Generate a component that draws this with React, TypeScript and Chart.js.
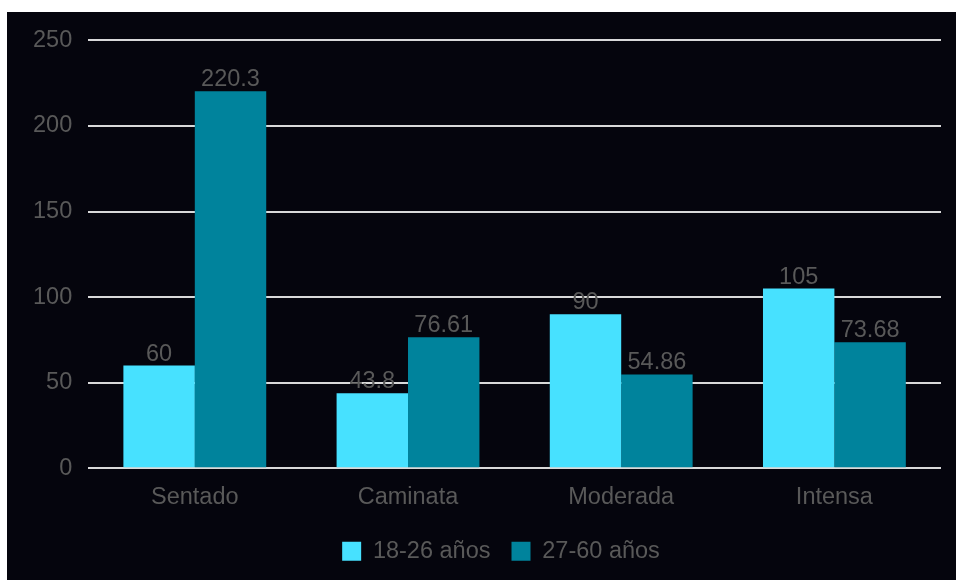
import React, { useEffect, useRef } from "react";
import { Chart, registerables } from "chart.js";

Chart.register(...registerables);

const categories = ["Sentado", "Caminata", "Moderada", "Intensa"];
const seriesYoung = [60, 43.8, 90, 105];
const seriesAdult = [220.3, 76.61, 54.86, 73.68];
const seriesNames = ["18-26 años", "27-60 años"];
const yTicks = [0, 50, 100, 150, 200, 250];

const FONT = "'Liberation Sans', Arial, sans-serif";
const TEXT = "#595959";
const FS = 23.5;

const valueLabels = {
  id: "valueLabels",
  afterDatasetsDraw(chart: any) {
    const ctx = chart.ctx;
    ctx.save();
    ctx.font = `${FS}px ${FONT}`;
    ctx.fillStyle = TEXT;
    ctx.textAlign = "center";
    ctx.textBaseline = "alphabetic";
    chart.data.datasets.forEach((ds: any, i: number) => {
      const meta = chart.getDatasetMeta(i);
      meta.data.forEach((el: any, j: number) => {
        ctx.fillText(String(ds.data[j]), el.x, el.y - 5);
      });
    });
    ctx.restore();
  },
};

const legendShift = {
  id: "legendShift",
  afterLayout(chart: any) {
    const lg = chart.legend;
    if (lg) {
      lg.left += 22;
      lg.right += 22;
    }
  },
};

export default function App() {
  const ref = useRef<HTMLCanvasElement>(null);
  useEffect(() => {
    if (!ref.current) return;
    const chart = new Chart(ref.current, {
      type: "bar",
      data: {
        labels: categories,
        datasets: [
          { label: seriesNames[0], data: seriesYoung, backgroundColor: "#47E1FF" },
          { label: seriesNames[1], data: seriesAdult, backgroundColor: "#00839C" },
        ],
      },
      options: {
        animation: false,
        responsive: true,
        maintainAspectRatio: false,
        layout: { padding: { top: 0, right: 15, bottom: 7, left: 10 } },
        datasets: { bar: { categoryPercentage: 0.67, barPercentage: 1 } },
        plugins: {
          tooltip: { enabled: false },
          legend: {
            position: "bottom",
            labels: {
              boxWidth: 19,
              boxHeight: 19,
              color: TEXT,
              font: { family: FONT, size: FS },
              padding: 21,
            },
          },
        },
        scales: {
          x: {
            grid: { display: false },
            border: { display: false },
            ticks: { color: TEXT, font: { family: FONT, size: FS }, padding: 7 },
          },
          y: {
            min: 0,
            max: 250,
            afterBuildTicks: (axis: any) => {
              axis.ticks = yTicks.map((v) => ({ value: v }));
            },
            grid: { color: "#D9D9D9", lineWidth: 2, drawTicks: false },
            border: { display: false },
            ticks: {
              color: TEXT,
              font: { family: FONT, size: FS, lineHeight: 1.05 },
              padding: 16,
            },
          },
        },
      },
      plugins: [valueLabels, legendShift],
    });
    return () => chart.destroy();
  }, []);
  return (
    <div
      style={{
        position: "fixed",
        left: 7,
        top: 12,
        right: 0,
        bottom: 0,
        background: "#05050D",
      }}
    >
      <canvas ref={ref} />
    </div>
  );
}
